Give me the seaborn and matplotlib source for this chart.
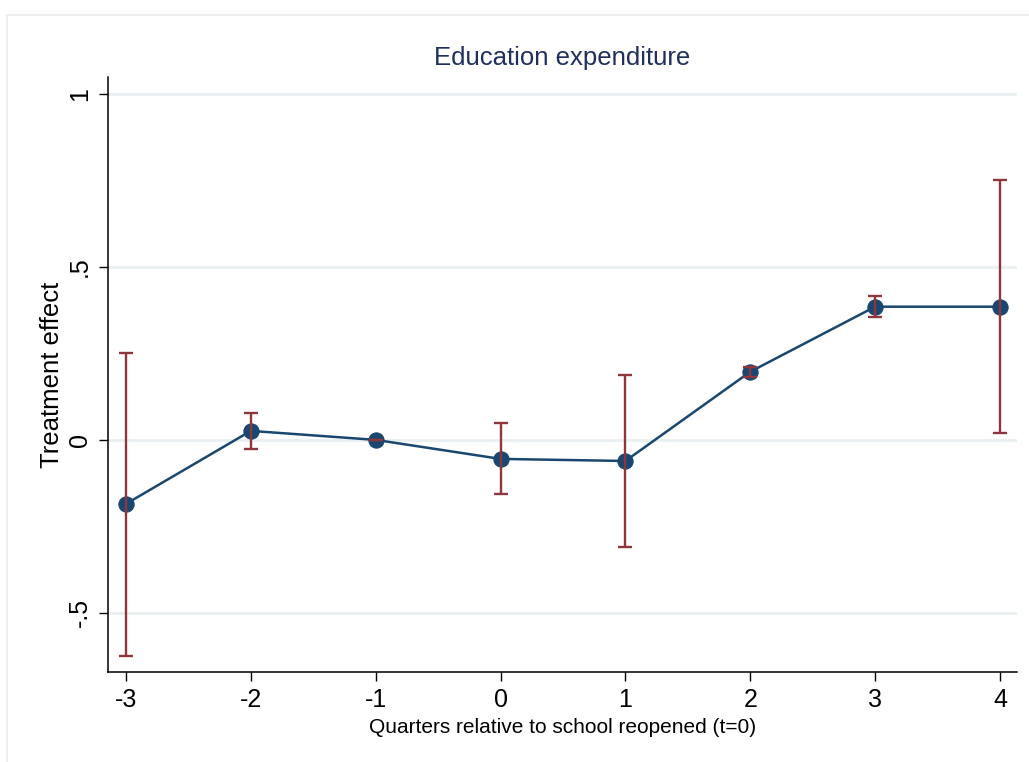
import matplotlib
matplotlib.use("Agg")
import matplotlib.pyplot as plt
import seaborn as sns
import pandas as pd
from matplotlib.patches import Rectangle

# ---- data ----
quarters = [-3, -2, -1, 0, 1, 2, 3, 4]
estimate = [-0.185, 0.026, 0.0, -0.055, -0.061, 0.197, 0.385, 0.385]
ci_lower = [-0.624, -0.026, 0.0, -0.156, -0.309, 0.183, 0.354, 0.019]
ci_upper = [0.251, 0.079, 0.0, 0.049, 0.188, 0.210, 0.416, 0.750]
ytick_values = [-0.5, 0, 0.5, 1]
ytick_labels = ["-.5", "0", ".5", "1"]
title = "Education expenditure"
xlabel = "Quarters relative to school reopened (t=0)"
ylabel = "Treatment effect"

df = pd.DataFrame({"q": quarters, "est": estimate, "lo": ci_lower, "hi": ci_upper})

sns.set_theme(style="white")
plt.rcParams["font.family"] = ["Liberation Sans", "DejaVu Sans"]

W, H = 1029, 762
fig = plt.figure(figsize=(W / 100, H / 100), dpi=100)
fig.patch.set_facecolor("white")
# light outer frame
fig.patches.append(Rectangle((7 / W, -0.01), 1.0, 1 - 15 / H + 0.01, transform=fig.transFigure,
                             fill=False, edgecolor="#ececec", linewidth=1.2, zorder=0))

L, R, T, B = 108, 1017, 77, 672
ax = fig.add_axes([L / W, 1 - B / H, (R - L) / W, (B - T) / H])
ax.set_facecolor("white")

navy = "#1a476f"
maroon = "#90353b"

# grid lines
for v in ytick_values:
    ax.axhline(v, color="#e9f0f2", linewidth=2.0, zorder=0)

sns.lineplot(data=df, x="q", y="est", ax=ax, color=navy, linewidth=1.8,
             marker="o", markersize=11, markeredgecolor=navy, markerfacecolor=navy,
             zorder=3, errorbar=None)

ax.errorbar(df["q"], df["est"],
            yerr=[df["est"] - df["lo"], df["hi"] - df["est"]],
            fmt="none", ecolor=maroon, elinewidth=1.7, capsize=4.8, capthick=1.7, zorder=4)

ax.set_xlim(-3.144, 4.136)
ax.set_ylim(-0.671, 1.049)
ax.set_xticks(quarters)
ax.set_xticklabels([str(q) for q in quarters])
ax.set_yticks(ytick_values)
ax.set_yticklabels(ytick_labels, rotation=90, va="center")

ax.tick_params(axis="both", which="major", direction="out", length=6.5, width=1.0,
               color="black", labelsize=18, labelcolor="black", bottom=True, left=True)
ax.tick_params(axis="x", pad=5)
ax.tick_params(axis="y", pad=5)

for s in ["top", "right"]:
    ax.spines[s].set_visible(False)
for s in ["left", "bottom"]:
    ax.spines[s].set_color("black")
    ax.spines[s].set_linewidth(1.1)

ax.set_title(title, fontsize=18.5, color="#1f2f5e", pad=9)
ax.set_xlabel(xlabel, fontsize=15, color="black")
ax.set_ylabel(ylabel, fontsize=18.5, color="black")
ax.xaxis.set_label_coords(0.5, -(718 - B) / (B - T))
ax.yaxis.set_label_coords(-(L - 64) / (R - L), 0.5)

fig.savefig("out.png", dpi=100)
